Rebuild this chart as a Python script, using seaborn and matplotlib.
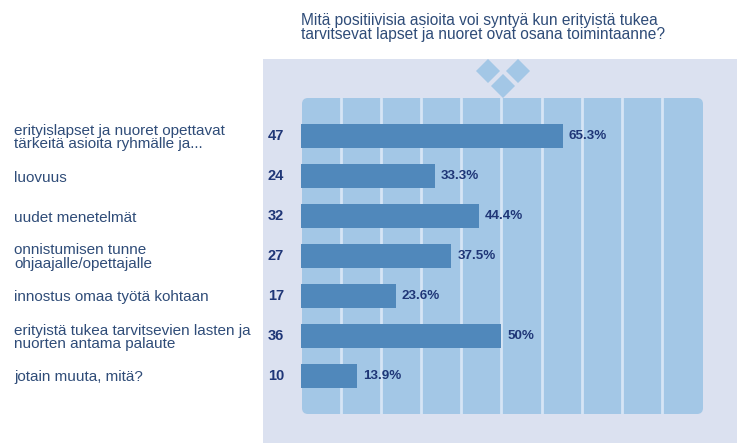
import matplotlib
matplotlib.use('Agg')
import matplotlib.pyplot as plt
import pandas as pd
import seaborn as sns
from matplotlib.patches import FancyBboxPatch, Polygon, Rectangle

categories = [
    'erityislapset ja nuoret opettavat\ntärkeitä asioita ryhmälle ja...',
    'luovuus',
    'uudet menetelmät',
    'onnistumisen tunne\nohjaajalle/opettajalle',
    'innostus omaa työtä kohtaan',
    'erityistä tukea tarvitsevien lasten ja\nnuorten antama palaute',
    'jotain muuta, mitä?',
]
counts = [47, 24, 32, 27, 17, 36, 10]
percents = [65.3, 33.3, 44.4, 37.5, 23.6, 50, 13.9]
percent_labels = ['65.3%', '33.3%', '44.4%', '37.5%', '23.6%', '50%', '13.9%']
title = 'Mitä positiivisia asioita voi syntyä kun erityistä tukea\ntarvitsevat lapset ja nuoret ovat osana toimintaanne?'

W, H = 737, 443
TEXT = '#2f4c78'
NAVY = '#1f3677'

sns.set_theme(style='white')
plt.rcParams['font.family'] = ['Liberation Sans', 'DejaVu Sans']

fig = plt.figure(figsize=(W / 100, H / 100), dpi=100, facecolor='white')


def fx(x):
    return x / W


def fy(y):
    return 1 - y / H


# backgrounds, in pixels from the top left of the picture
fig.patches.append(Rectangle((fx(263), 0), fx(474), fy(59), transform=fig.transFigure,
                             facecolor='#dbe1f0', edgecolor='none', zorder=-3))
for cx, cy in [(488, 71), (518, 71), (503, 86)]:
    pts = [(cx - 12, cy), (cx, cy - 12), (cx + 12, cy), (cx, cy + 12)]
    fig.patches.append(Polygon([(fx(a), fy(b)) for a, b in pts], transform=fig.transFigure,
                               facecolor='#a3c7e6', edgecolor='none', zorder=-2))

panel = FancyBboxPatch((308, H - 414 + 6), 389, 304, boxstyle='round,pad=6',
                       transform=None, facecolor='#a3c7e6', edgecolor='none', zorder=-1)
fig.patches.append(panel)

ax = fig.add_axes([fx(301), fy(414), fx(401), (414 - 98) / H])
ax.patch.set_alpha(0)
for s in ax.spines.values():
    s.set_visible(False)

df = pd.DataFrame({'category': categories, 'percent': percents})
sns.barplot(data=df, x='percent', y='category', color='#5088bb', saturation=1,
            width=0.61, linewidth=0, ax=ax, zorder=3)

ax.set_xlim(0, 100)
ax.set_ylim(6.95, -0.95)
ax.set_xlabel('')
ax.set_ylabel('')
ax.set_xticks(range(10, 100, 10))
ax.set_xticklabels([])
ax.grid(axis='x', color='#d6e5f5', linewidth=2)
ax.set_axisbelow(True)
ax.tick_params(axis='both', length=0)
ax.tick_params(axis='y', pad=287 * 0.72)
for lab in ax.get_yticklabels():
    lab.set_horizontalalignment('left')
    lab.set_fontsize(11)
    lab.set_color(TEXT)
    lab.set_linespacing(0.92)

for i, (n, p, s) in enumerate(zip(counts, percents, percent_labels)):
    ax.annotate(str(n), xy=(0, i), xycoords=('axes fraction', 'data'), xytext=(-33, 0),
                textcoords='offset pixels', ha='left', va='center', fontsize=10.5,
                fontweight='bold', color=NAVY)
    ax.annotate(s, xy=(p, i), xytext=(6, 0), textcoords='offset pixels', ha='left',
                va='center', fontsize=9.6, fontweight='bold', color=NAVY, zorder=5)

fig.text(fx(301), fy(13), title, ha='left', va='top', fontsize=11.2, color=TEXT, linespacing=0.9)

fig.savefig('out.png', dpi=100, facecolor='white')
